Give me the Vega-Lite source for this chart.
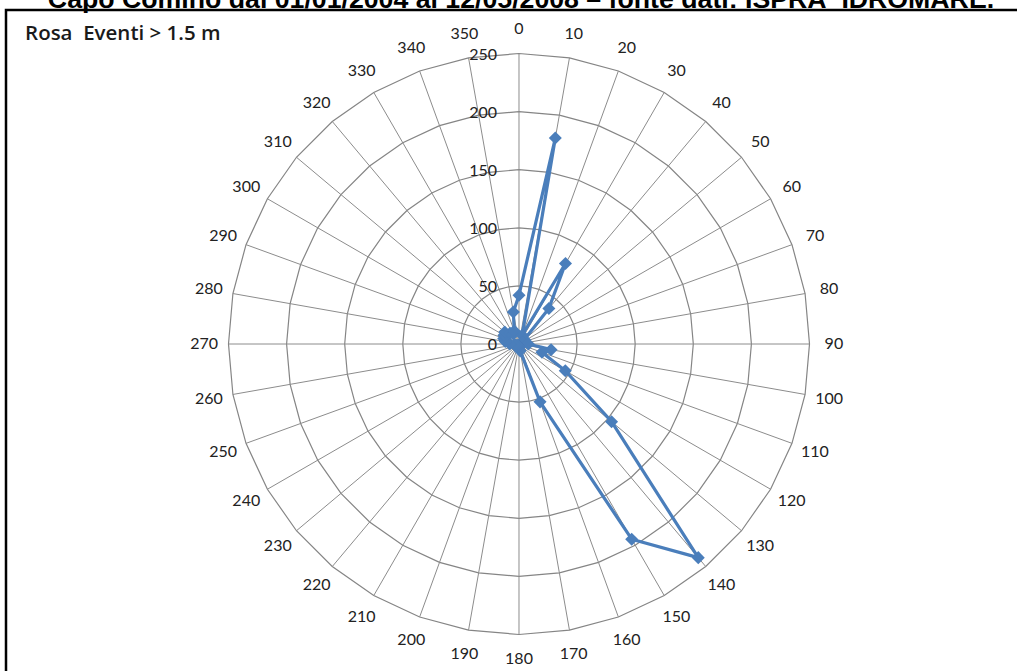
{
  "$schema": "https://vega.github.io/schema/vega-lite/v6.json",
  "autosize": {"type": "none"},
  "padding": {"left": 6, "top": 10, "right": 0, "bottom": 0},
  "width": 1020,
  "height": 670,
  "background": "white",
  "config": {"view": {"stroke": "black", "strokeWidth": 2.5}},
  "datasets": {
    "rose": [
      {"dir": 0, "value": 42}, {"dir": 10, "value": 180}, {"dir": 20, "value": 8},
      {"dir": 30, "value": 80}, {"dir": 40, "value": 40}, {"dir": 50, "value": 6},
      {"dir": 60, "value": 4}, {"dir": 70, "value": 3}, {"dir": 80, "value": 4},
      {"dir": 90, "value": 8}, {"dir": 100, "value": 28}, {"dir": 110, "value": 21},
      {"dir": 120, "value": 46}, {"dir": 130, "value": 104}, {"dir": 140, "value": 240},
      {"dir": 150, "value": 194}, {"dir": 160, "value": 53}, {"dir": 170, "value": 6},
      {"dir": 180, "value": 3}, {"dir": 190, "value": 2}, {"dir": 200, "value": 2},
      {"dir": 210, "value": 2}, {"dir": 220, "value": 2}, {"dir": 230, "value": 2},
      {"dir": 240, "value": 3}, {"dir": 250, "value": 3}, {"dir": 260, "value": 4},
      {"dir": 270, "value": 8}, {"dir": 280, "value": 12}, {"dir": 290, "value": 14},
      {"dir": 300, "value": 15}, {"dir": 310, "value": 16}, {"dir": 320, "value": 12},
      {"dir": 330, "value": 10}, {"dir": 340, "value": 12}, {"dir": 350, "value": 28}
    ],
    "rings": [
      {"ring": 0, "dirs": [0,10,20,30,40,50,60,70,80,90,100,110,120,130,140,150,160,170,180,190,200,210,220,230,240,250,260,270,280,290,300,310,320,330,340,350]},
      {"ring": 50, "dirs": [0,10,20,30,40,50,60,70,80,90,100,110,120,130,140,150,160,170,180,190,200,210,220,230,240,250,260,270,280,290,300,310,320,330,340,350]},
      {"ring": 100, "dirs": [0,10,20,30,40,50,60,70,80,90,100,110,120,130,140,150,160,170,180,190,200,210,220,230,240,250,260,270,280,290,300,310,320,330,340,350]},
      {"ring": 150, "dirs": [0,10,20,30,40,50,60,70,80,90,100,110,120,130,140,150,160,170,180,190,200,210,220,230,240,250,260,270,280,290,300,310,320,330,340,350]},
      {"ring": 200, "dirs": [0,10,20,30,40,50,60,70,80,90,100,110,120,130,140,150,160,170,180,190,200,210,220,230,240,250,260,270,280,290,300,310,320,330,340,350]},
      {"ring": 250, "dirs": [0,10,20,30,40,50,60,70,80,90,100,110,120,130,140,150,160,170,180,190,200,210,220,230,240,250,260,270,280,290,300,310,320,330,340,350]}
    ]
  },
  "layer": [
    {
      "data": {"name": "rings"},
      "transform": [
        {"filter": "datum.ring > 0"},
        {"flatten": ["dirs"], "as": ["dir"]},
        {"calculate": "datum.ring * sin(datum.dir * PI / 180)", "as": "gx"},
        {"calculate": "datum.ring * cos(datum.dir * PI / 180)", "as": "gy"}
      ],
      "mark": {"type": "line", "interpolate": "linear-closed", "stroke": "#858585", "strokeWidth": 1.2},
      "encoding": {
        "x": {"field": "gx", "type": "quantitative", "scale": {"domain": [-441.48, 436.32], "nice": false, "zero": false}, "axis": null},
        "y": {"field": "gy", "type": "quantitative", "scale": {"domain": [-289.16, 287.44], "nice": false, "zero": false}, "axis": null},
        "detail": {"field": "ring", "type": "nominal"},
        "order": {"field": "dir", "type": "quantitative"}
      }
    },
    {
      "data": {"name": "rose"},
      "transform": [
        {"calculate": "250 * sin(datum.dir * PI / 180)", "as": "ex"},
        {"calculate": "250 * cos(datum.dir * PI / 180)", "as": "ey"}
      ],
      "mark": {"type": "rule", "stroke": "#8c8c8c", "strokeWidth": 1},
      "encoding": {
        "x": {"field": "ex", "type": "quantitative", "scale": {"domain": [-441.48, 436.32], "nice": false, "zero": false}, "axis": null},
        "y": {"field": "ey", "type": "quantitative", "scale": {"domain": [-289.16, 287.44], "nice": false, "zero": false}, "axis": null},
        "x2": {"datum": 0},
        "y2": {"datum": 0}
      }
    },
    {
      "data": {"name": "rings"},
      "mark": {"type": "text", "align": "right", "baseline": "middle", "dx": -22, "dy": 1, "font": "Lato", "fontSize": 16, "color": "#222222"},
      "encoding": {
        "x": {"datum": 0, "type": "quantitative", "scale": {"domain": [-441.48, 436.32], "nice": false, "zero": false}, "axis": null},
        "y": {"field": "ring", "type": "quantitative", "scale": {"domain": [-289.16, 287.44], "nice": false, "zero": false}, "axis": null},
        "text": {"field": "ring", "type": "quantitative", "format": "d"}
      }
    },
    {
      "data": {"name": "rose"},
      "transform": [
        {"calculate": "271 * sin(datum.dir * PI / 180)", "as": "lx"},
        {"calculate": "271 * cos(datum.dir * PI / 180)", "as": "ly"}
      ],
      "mark": {"type": "text", "align": "center", "baseline": "middle", "font": "Lato", "fontSize": 16, "color": "#222222"},
      "encoding": {
        "x": {"field": "lx", "type": "quantitative", "scale": {"domain": [-441.48, 436.32], "nice": false, "zero": false}, "axis": null},
        "y": {"field": "ly", "type": "quantitative", "scale": {"domain": [-289.16, 287.44], "nice": false, "zero": false}, "axis": null},
        "text": {"field": "dir", "type": "quantitative", "format": "d"}
      }
    },
    {
      "data": {"name": "rose"},
      "transform": [
        {"calculate": "datum.value * sin(datum.dir * PI / 180)", "as": "px"},
        {"calculate": "datum.value * cos(datum.dir * PI / 180)", "as": "py"}
      ],
      "mark": {"type": "line", "interpolate": "linear-closed", "stroke": "#4A7EBB", "strokeWidth": 3.2, "strokeJoin": "round"},
      "encoding": {
        "x": {"field": "px", "type": "quantitative", "scale": {"domain": [-441.48, 436.32], "nice": false, "zero": false}, "axis": null},
        "y": {"field": "py", "type": "quantitative", "scale": {"domain": [-289.16, 287.44], "nice": false, "zero": false}, "axis": null},
        "order": {"field": "dir", "type": "quantitative"}
      }
    },
    {
      "data": {"name": "rose"},
      "transform": [
        {"calculate": "datum.value * sin(datum.dir * PI / 180)", "as": "px"},
        {"calculate": "datum.value * cos(datum.dir * PI / 180)", "as": "py"}
      ],
      "mark": {"type": "point", "shape": "diamond", "filled": true, "size": 170, "color": "#4A7EBB", "opacity": 1},
      "encoding": {
        "x": {"field": "px", "type": "quantitative", "scale": {"domain": [-441.48, 436.32], "nice": false, "zero": false}, "axis": null},
        "y": {"field": "py", "type": "quantitative", "scale": {"domain": [-289.16, 287.44], "nice": false, "zero": false}, "axis": null}
      }
    },
    {
      "data": {"values": [{"label": "Rosa\u00a0\u00a0Eventi > 1.5 m"}]},
      "mark": {"type": "text", "align": "left", "baseline": "alphabetic", "font": "Open Sans", "fontSize": 20.5, "fontWeight": 600, "color": "#1a1a1a"},
      "encoding": {
        "x": {"datum": -425.1, "type": "quantitative", "scale": {"domain": [-441.48, 436.32], "nice": false, "zero": false}, "axis": null},
        "y": {"datum": 261.6, "type": "quantitative", "scale": {"domain": [-289.16, 287.44], "nice": false, "zero": false}, "axis": null},
        "text": {"field": "label", "type": "nominal"}
      }
    },
    {
      "data": {"values": [{"label": "Capo Comino dal 01/01/2004 al 12/05/2008 – fonte dati: ISPRA_IDROMARE."}]},
      "mark": {"type": "text", "align": "center", "baseline": "alphabetic", "font": "Liberation Sans", "fontSize": 26.7, "fontWeight": "bold", "color": "black"},
      "encoding": {
        "x": {"datum": 1.7, "type": "quantitative", "scale": {"domain": [-441.48, 436.32], "nice": false, "zero": false}, "axis": null},
        "y": {"datum": 289.16, "type": "quantitative", "scale": {"domain": [-289.16, 287.44], "nice": false, "zero": false}, "axis": null},
        "text": {"field": "label", "type": "nominal"}
      }
    }
  ]
}
